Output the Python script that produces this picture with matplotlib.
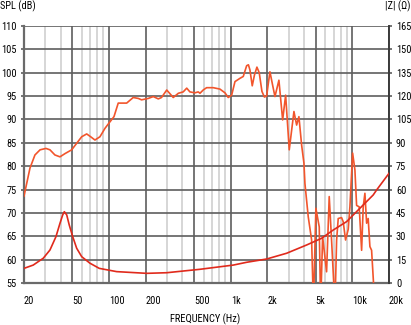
import matplotlib
matplotlib.use("Agg")
import matplotlib.pyplot as plt
from matplotlib.ticker import FixedLocator, NullFormatter, NullLocator
from matplotlib import font_manager

# ---------------- data ----------------
spl_freq = [20, 22.4, 24.6, 27.1, 30.3, 32.7, 35.9, 39.5, 43.5, 49.3, 54.2, 59.6, 65.5, 70.6,
            76.6, 84.2, 92.6, 101.8, 109.8, 119, 139.6, 158, 174, 185, 210, 231, 254, 270,
            298, 337, 371, 407, 435, 462, 508, 541, 559, 594, 634, 718, 815, 897, 954, 1018,
            1084, 1191, 1268, 1352, 1398, 1439, 1503, 1567, 1642, 1716, 1806, 1892, 1973,
            2101, 2236, 2310, 2490, 2672, 2828, 3028, 3309, 3482, 3636, 3828, 4000, 4074,
            4336, 4624, 4786, 5012, 5342, 5484, 5694, 6138, 6452, 6745, 7188, 7422, 7650,
            8148, 8410, 8790, 9247, 9544, 10046, 10492, 10832, 11378, 11910, 12276, 12678,
            13092, 13490, 13932, 14388, 15312]
spl_db = [73.6, 79.6, 82.4, 83.5, 83.8, 83.5, 82.4, 82.0, 82.7, 83.5, 84.9, 86.3, 86.9, 86.3,
          85.6, 86.3, 88.1, 89.5, 90.6, 93.5, 93.5, 94.7, 94.5, 94.2, 94.5, 94.9, 94.4, 94.7,
          96.3, 94.7, 95.6, 95.9, 96.7, 95.9, 95.7, 95.9, 95.6, 96.3, 96.8, 96.8, 96.5, 95.7,
          94.7, 95.2, 98.1, 98.8, 99.2, 101.5, 101.7, 100.6, 97.2, 99.5, 101.2, 100.0, 96.0,
          94.8, 95.0, 100.2, 96.7, 94.9, 98.4, 89.9, 95.2, 83.5, 91.7, 88.8, 90.6, 84.5, 80.6,
          76.3, 69.2, 64.2, 50.0, 71.0, 67.0, 50.0, 64.9, 57.4, 73.5, 64.2, 50.0, 64.2, 68.8,
          69.0, 68.1, 64.2, 66.5, 71.3, 82.8, 79.2, 71.6, 71.3, 62.0, 71.3, 74.2, 67.8, 68.8,
          62.8, 62.0, 50.0]

imp_freq = [20, 23.8, 28.8, 32.7, 36.6, 39.5, 41.6, 42.9, 44.9, 47.1, 50.3, 54.2, 59.6, 69.7,
            83.1, 115.5, 204, 298, 559, 1049, 1352, 1973, 2882, 4206, 5585, 6958, 8966,
            12678, 14826, 15814, 20000]
imp_ohm = [9.4, 11.5, 15.9, 21.2, 29.7, 38.3, 43.7, 45.8, 43.7, 37.2, 29.7, 22.3, 16.9, 12.7,
           9.4, 7.3, 6.2, 6.6, 8.8, 11.5, 13.3, 15.4, 19.1, 24.4, 28.7, 34.0, 39.4,
           51.2, 56.5, 59.7, 70.4]

x_ticks = [20, 50, 100, 200, 500, 1000, 2000, 5000, 10000, 20000]
x_labels = ["20", "50", "100", "200", "500", "1k", "2k", "5k", "10k", "20k"]
x_minor = [30, 40, 60, 70, 80, 90, 300, 400, 600, 700, 800, 900,
           3000, 4000, 6000, 7000, 8000, 9000]
spl_ticks = list(range(55, 111, 5))
imp_ticks = list(range(0, 166, 15))

# ---------------- style ----------------
avail = {f.name for f in font_manager.fontManager.ttflist}
fam = [f for f in ["Liberation Sans Narrow", "Roboto Condensed", "DejaVu Sans"] if f in avail]
plt.rcParams["font.family"] = fam + ["DejaVu Sans"]

spl_color = "#f2552c"
imp_color = "#e02a1c"
major_c = "#5e5e5e"
minor_c = "#cfcfcf"
fs = 7.5

fig = plt.figure(figsize=(4.11, 3.25), dpi=100)
ax = fig.add_axes([24 / 411, 42 / 325, 365 / 411, 257 / 325])
ax.set_xscale("log")
ax.set_xlim(20, 20000)
ax.set_ylim(55, 110)

ax.xaxis.set_major_locator(FixedLocator(x_ticks))
ax.xaxis.set_minor_locator(FixedLocator(x_minor))
ax.xaxis.set_minor_formatter(NullFormatter())
ax.set_xticks(x_ticks)
ax.set_xticklabels(x_labels, ha="left", fontsize=fs)
ax.set_yticks(spl_ticks)
ax.set_yticklabels([str(v) for v in spl_ticks], fontsize=fs)

ax.grid(which="major", axis="both", color=major_c, lw=1.2)
ax.grid(which="minor", axis="x", color=minor_c, lw=1.2)
ax.set_axisbelow(True)

ax.tick_params(axis="x", which="both", length=0, pad=9)
ax.tick_params(axis="y", which="both", length=2, width=1.2, color=major_c, pad=3)

for s in ["top", "right"]:
    ax.spines[s].set_visible(False)
for s in ["left", "bottom"]:
    ax.spines[s].set_color("#6a6a6a")
    ax.spines[s].set_linewidth(1.6)

ax.plot(spl_freq, spl_db, color=spl_color, lw=1.2, zorder=3, clip_on=True)

ax2 = ax.twinx()
ax2.set_ylim(0, 165)
ax2.set_yticks(imp_ticks)
ax2.set_yticklabels([str(v) for v in imp_ticks], fontsize=fs)
ax2.tick_params(axis="y", length=2, width=1.2, color=major_c, pad=3)
for s in ["top", "left", "bottom"]:
    ax2.spines[s].set_visible(False)
ax2.spines["right"].set_color("#3a3a3a")
ax2.spines["right"].set_linewidth(1.4)
ax2.plot(imp_freq, imp_ohm, color=imp_color, lw=1.2, zorder=3)

fig.text(0 / 411, 1 - 6 / 325, "SPL (dB)", fontsize=fs, ha="left", va="center")
fig.text(410 / 411, 1 - 6 / 325, "|Z| (\u03a9)", fontsize=fs, ha="right", va="center")
fig.text(205 / 411, 1 - 319 / 325, "FREQUENCY (Hz)", fontsize=fs, ha="center", va="center")

fig.savefig("out.png", dpi=100)
